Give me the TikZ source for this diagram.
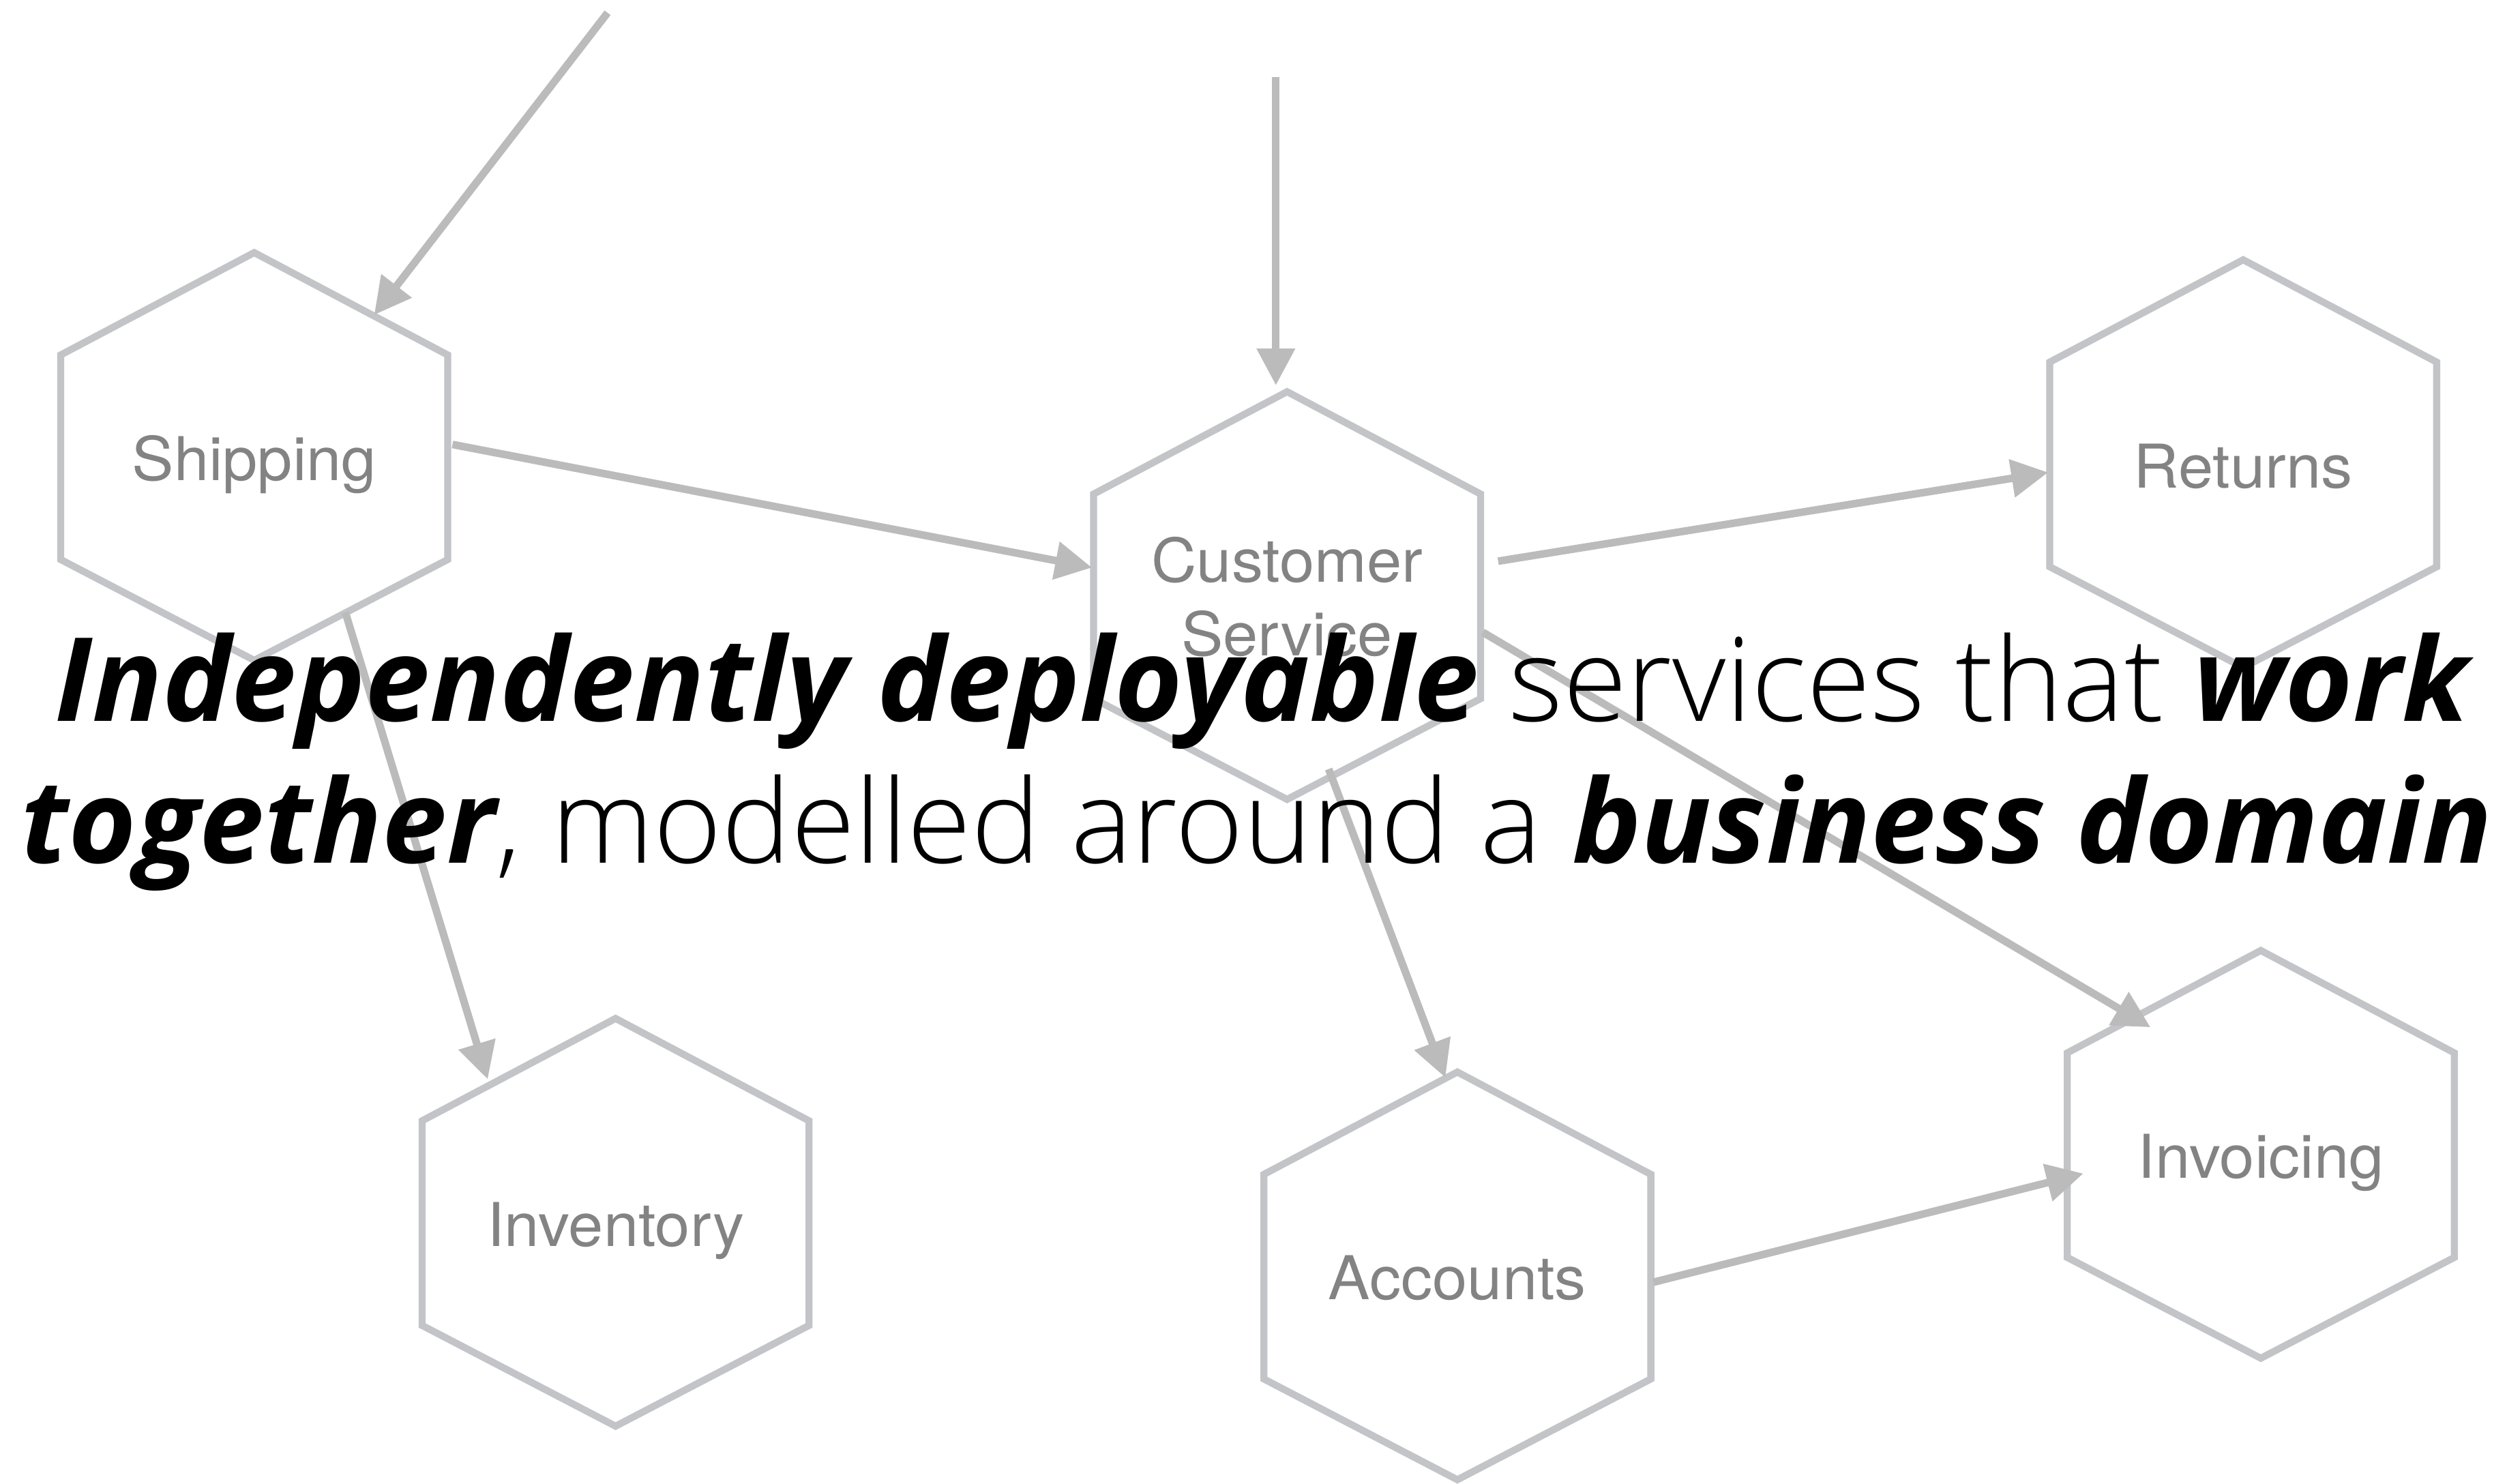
\documentclass[tikz,border=0pt]{standalone}
\usepackage{fontspec}
\setmainfont{Open Sans}
\newfontfamily\oslight{Open Sans Light}
\newfontfamily\labfont[FakeStretch=1.04]{TeX Gyre Heros}
\usetikzlibrary{arrows.meta,calc}
\definecolor{hexgray}{HTML}{C3C4C7}
\definecolor{arrgray}{HTML}{BBBBBB}
\definecolor{labgray}{HTML}{838383}
\newcommand\bfit[1]{{\bfseries\itshape #1}}
\newcommand\ltw[1]{{\oslight #1}}
\newcommand\hexshape[1]{%
  \draw[hexline] ($(#1)+(0,-127.5)$) -- ($(#1)+(121,-63.5)$) -- ($(#1)+(121,64.5)$)
    -- ($(#1)+(0,127.5)$) -- ($(#1)+(-121,64.5)$) -- ($(#1)+(-121,-63.5)$) -- cycle;}
\begin{document}
\begin{tikzpicture}[x=0.02cm,y=-0.02cm,
  hexline/.style={draw=hexgray,line width=2.5pt,line join=miter},
  conn/.style={draw=arrgray,line width=2.7pt,-{Triangle[length=0.46cm,width=0.46cm]}},
  lab/.style={text=labgray,font=\labfont\fontsize{21.5}{25}\selectfont,anchor=base,inner sep=0pt},
  headline/.style={font=\fontsize{41.4}{50}\selectfont,anchor=base,inner sep=0pt,text=black}]
\useasboundingbox (0,0) rectangle (1568,928);
\fill[white] (0,0) rectangle (1568,928);

% hexagon centres
\coordinate (ship) at (159,285.5);
\coordinate (cs)   at (805,372.5);
\coordinate (ret)  at (1403,290);
\coordinate (inv)  at (385,764.5);
\coordinate (acc)  at (911.5,798);
\coordinate (invo) at (1414,722);

\hexshape{ship}
\hexshape{cs}
\hexshape{ret}
\hexshape{inv}
\hexshape{acc}
\hexshape{invo}

\node[lab] (ship-l) at ($(ship)+(0,15)$) {Shipping};
\node[lab] (cs-l1)  at ($(cs)+(0,-8.5)$) {Customer};
\node[lab] (cs-l2)  at ($(cs)+(0,37.5)$) {Service};
\node[lab] (ret-l)  at ($(ret)+(0,15)$) {Returns};
\node[lab] (inv-l)  at ($(inv)+(0,15)$) {Inventory};
\node[lab] (acc-l)  at ($(acc)+(0,15)$) {Accounts};
\node[lab] (invo-l) at ($(invo)+(0,15)$) {Invoicing};

% free ends
\coordinate (ext1) at (380,8);
\coordinate (ext2) at (798,48);

\draw[conn] (ext1) -- ($(ship)+(75,-88.5)$);
\draw[conn] (ext2) -- ($(cs)+(-7,-131.5)$);
\draw[conn] ($(ship)+(124,-7.5)$) -- ($(cs)+(-122,-17.5)$);
\draw[conn] ($(cs)+(132,-21.5)$) -- ($(ret)+(-122,5.5)$);
\draw[conn] ($(ship)+(57,97.5)$) -- ($(inv)+(-80,-89.5)$);
\draw[conn] ($(cs)+(26,108.5)$) -- ($(acc)+(-7.5,-124)$);
\draw[conn] ($(cs)+(122.5,23)$) -- ($(invo)+(-69,-79.5)$);
\draw[conn] ($(acc)+(122.5,4)$) -- ($(invo)+(-111,12)$);

\node[headline] (line1) at (789,451) {\bfit{Independently deployable}\ltw{ services that }\bfit{work}};
\node[headline] (line2) at (786,540) {\bfit{together}\ltw{, modelled around a }\bfit{business domain}};
\end{tikzpicture}
\end{document}
